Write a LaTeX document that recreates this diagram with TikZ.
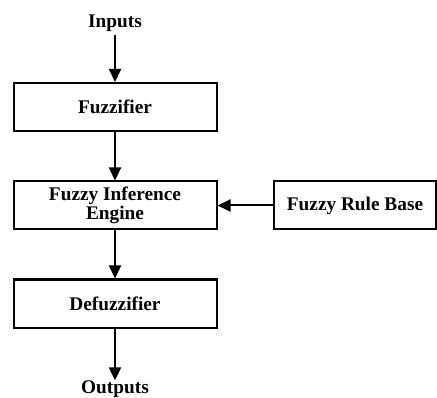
\documentclass[tikz,border=0pt]{standalone}
\usepackage{fontspec}
\setmainfont{Liberation Serif}
\usetikzlibrary{arrows.meta}
\tikzset{
  block/.style={draw, line width=2pt, minimum width=203pt, minimum height=48pt,
    inner sep=0pt, align=center},
  tag/.style={inner sep=0pt},
  flow/.style={line width=2pt, -{Triangle[width=12pt,length=13pt]}}
}
\begin{document}
\begin{tikzpicture}[x=1pt,y=1pt,font=\fontsize{19.3}{18.5}\selectfont\bfseries]
      \useasboundingbox (0,0) rectangle (437,397);
      \draw
        (115,374) node[tag] (in){Inputs}
        (115,290) node[block] (fuzz){Fuzzifier}
        (115,191.5) node[block] (inf){Fuzzy Inference\\Engine}
        (115,93.5) node[block] (defuzz){Defuzzifier}
        (355,191.5) node[block, minimum width=162pt] (rules){Fuzzy Rule Base}
        (115,8) node[tag] (out){Outputs};
      \begin{scope}[flow]
        \draw (in.south) ++(0,-3) coordinate (in0) (in0) -- (fuzz);
        \draw (fuzz) -- (inf);
        \draw (rules) -- (inf);
        \draw (inf) -- (defuzz);
        \draw (defuzz) -- (out.north);
      \end{scope}
    \end{tikzpicture}
\end{document}
